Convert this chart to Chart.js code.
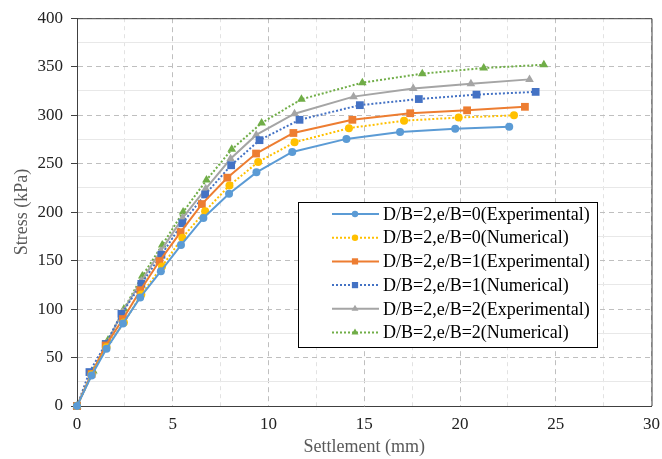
<!DOCTYPE html>
<html>
<head>
<meta charset="utf-8">
<script src="https://cdn.jsdelivr.net/npm/chart.js@4.4.1/dist/chart.umd.min.js"></script>
<style>
  html, body { margin: 0; padding: 0; background: #fff; }
</style>
</head>
<body>
<canvas id="chart" width="662" height="459"></canvas>
<script>
// series names
const names = [
  "D/B=2,e/B=0(Experimental)",
  "D/B=2,e/B=0(Numerical)",
  "D/B=2,e/B=1(Experimental)",
  "D/B=2,e/B=1(Numerical)",
  "D/B=2,e/B=2(Experimental)",
  "D/B=2,e/B=2(Numerical)"
];

// settlement (mm) / stress (kPa)
const exp0X = [0, 0.76, 1.54, 2.4, 3.3, 4.38, 5.43, 6.6, 7.94, 9.37, 11.24, 14.07, 16.87, 19.75, 22.57];
const exp0Y = [0, 31.5, 59, 85, 112, 139, 166, 194, 219, 241, 262, 275.5, 282.5, 286, 288];
const num0X = [0, 0.76, 1.54, 2.45, 3.36, 4.44, 5.5, 6.69, 7.96, 9.46, 11.36, 14.2, 17.08, 19.93, 22.82];
const num0Y = [0, 32.5, 60.5, 86, 115, 144, 173.5, 201, 227.5, 251.7, 272, 286.6, 294.3, 297.5, 299.8];
const exp1X = [0, 0.76, 1.5, 2.4, 3.31, 4.31, 5.41, 6.52, 7.85, 9.35, 11.3, 14.38, 17.4, 20.37, 23.39];
const exp1Y = [0, 33, 62.4, 89.7, 119.4, 149.5, 179.3, 208.3, 235.5, 260.4, 281.6, 295.2, 302, 305, 308.6];
const num1X = [0, 0.65, 1.5, 2.32, 3.36, 4.41, 5.5, 6.69, 8.05, 9.53, 11.62, 14.77, 17.85, 20.86, 23.95];
const num1Y = [0, 35, 64, 95, 126, 156, 188.5, 218.2, 248.3, 274.2, 295.2, 310.3, 316.6, 321.2, 324];
const exp2X = [0, 0.8, 1.54, 2.37, 3.36, 4.38, 5.52, 6.72, 8.02, 9.36, 11.36, 14.44, 17.56, 20.57, 23.63];
const exp2Y = [0, 35, 64, 97, 129, 160, 194, 224, 255, 279.6, 301.5, 319.1, 327.4, 332.3, 336.9];
const num2X = [0, 0.85, 1.62, 2.45, 3.41, 4.45, 5.54, 6.76, 8.08, 9.64, 11.72, 14.9, 18.03, 21.24, 24.38];
const num2Y = [0, 36, 68, 100, 134, 166, 200, 233, 264.7, 291.9, 316.4, 333.5, 342.8, 348.6, 352];

const colors = ["#5B9BD5", "#FFC000", "#ED7D31", "#4472C4", "#A5A5A5", "#70AD47"];
const markers = ["circle", "circle", "rect", "rect", "triangle", "triangle"];
const dotted = [false, true, false, true, false, true];

const xs = [exp0X, num0X, exp1X, num1X, exp2X, num2X];
const ys = [exp0Y, num0Y, exp1Y, num1Y, exp2Y, num2Y];

const FONT = "'Liberation Serif', 'Times New Roman', serif";
Chart.defaults.font.family = FONT;

const pts = (x, y) => x.map((v, i) => ({ x: v, y: y[i] }));
const radius = s => s === "circle" ? 4 : s === "rect" ? 5.5 : 5;

const datasets = names.map((n, i) => ({
  label: n,
  data: pts(xs[i], ys[i]),
  borderColor: colors[i],
  backgroundColor: colors[i],
  borderWidth: 2,
  borderDash: dotted[i] ? [2, 2] : [],
  pointStyle: markers[i],
  pointRadius: radius(markers[i]),
  pointBorderWidth: 0,
  pointHoverRadius: radius(markers[i]),
  tension: 0,
  clip: false
}));

// legend box drawn inside the plot, like the original
const boxLegend = {
  id: "boxLegend",
  afterDraw(chart) {
    const ctx = chart.ctx;
    const bx = 298, by = 202, bw = 299, bh = 145;
    ctx.save();
    ctx.fillStyle = "#fff";
    ctx.fillRect(bx, by, bw, bh);
    ctx.strokeStyle = "#000";
    ctx.lineWidth = 1;
    ctx.strokeRect(bx + 0.5, by + 0.5, bw, bh);
    ctx.font = "18px " + FONT;
    ctx.textBaseline = "middle";
    chart.data.datasets.forEach((ds, i) => {
      const y = 214 + i * 23.7;
      ctx.strokeStyle = ds.borderColor;
      ctx.lineWidth = 2;
      ctx.setLineDash(ds.borderDash);
      ctx.beginPath();
      ctx.moveTo(332, y);
      ctx.lineTo(379, y);
      ctx.stroke();
      ctx.setLineDash([]);
      ctx.fillStyle = ds.backgroundColor;
      Chart.helpers.drawPoint(ctx, {
        pointStyle: ds.pointStyle,
        radius: ds.pointRadius * 0.8,
        rotation: 0,
        borderWidth: 0
      }, 355, y);
      ctx.fillStyle = "#000";
      ctx.fillText(ds.label, 383, y + 1);
    });
    ctx.restore();
  }
};

// closing frame on top and right
const frame = {
  id: "frame",
  beforeDatasetsDraw(chart) {
    const a = chart.chartArea, ctx = chart.ctx;
    ctx.save();
    ctx.strokeStyle = "#404040";
    ctx.lineWidth = 1;
    ctx.beginPath();
    ctx.moveTo(a.left, a.top + 0.5);
    ctx.lineTo(a.right + 0.5, a.top + 0.5);
    ctx.lineTo(a.right + 0.5, a.bottom);
    ctx.stroke();
    ctx.restore();
  }
};

const isMajor = (v, step) => Math.abs(v / step - Math.round(v / step)) < 1e-6;

new Chart(document.getElementById("chart"), {
  type: "line",
  data: { datasets },
  plugins: [frame, boxLegend],
  options: {
    responsive: false,
    animation: false,
    layout: { padding: { left: 0, right: 9, top: 12, bottom: 0 } },
    plugins: { legend: { display: false }, tooltip: { enabled: false } },
    scales: {
      x: {
        type: "linear",
        min: 0, max: 30,
        afterFit: s => { s.height = 53; },
        ticks: {
          stepSize: 2.5,
          autoSkip: false,
          maxRotation: 0,
          padding: 2,
          color: "#222",
          font: { size: 17 },
          callback: v => isMajor(v, 5) ? v : ""
        },
        grid: {
          color: c => c.tick && isMajor(c.tick.value, 5) ? "#bfbfbf" : "#e2e2e2",
          tickColor: "transparent",
          tickLength: 6
        },
        border: {
          color: "#404040",
          dash: c => c.tick && isMajor(c.tick.value, 5) ? [5, 4] : [4, 4]
        },
        title: {
          display: true,
          text: "Settlement (mm)",
          color: "#595959",
          font: { size: 18 },
          padding: { top: 0, bottom: 1 }
        }
      },
      y: {
        min: 0, max: 400,
        afterFit: s => { s.width = 77; },
        ticks: {
          stepSize: 25,
          autoSkip: false,
          padding: 8,
          color: "#222",
          font: { size: 17 },
          callback: v => isMajor(v, 50) ? v : ""
        },
        grid: {
          color: c => c.tick && isMajor(c.tick.value, 50) ? "#bfbfbf" : "#e8e8e8",
          tickColor: c => c.tick && isMajor(c.tick.value, 50) ? "#404040" : "transparent",
          tickLength: 6
        },
        border: {
          color: "#404040",
          dash: c => c.tick && isMajor(c.tick.value, 50) ? [5, 4] : []
        },
        title: {
          display: true,
          text: "Stress (kPa)",
          color: "#595959",
          font: { size: 18 },
          padding: { top: 11, bottom: 0 }
        }
      }
    }
  }
});
</script>
</body>
</html>
